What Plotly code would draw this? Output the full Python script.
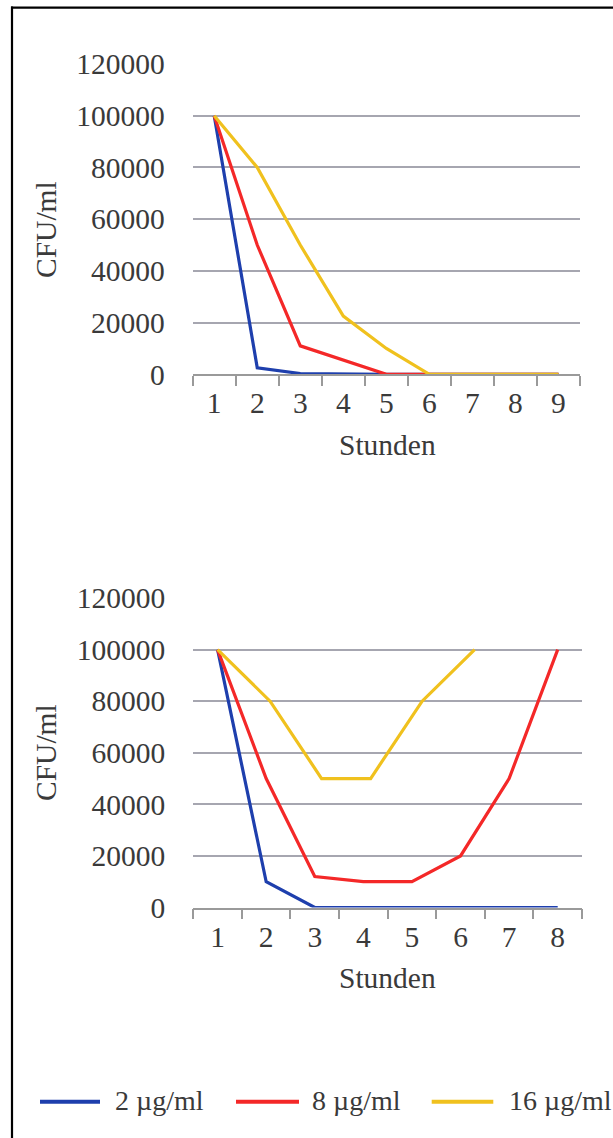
import plotly.graph_objects as go

W, H = 613, 1138

# ---------------- data ----------------
series_names = ["2 µg/ml", "8 µg/ml", "16 µg/ml"]
series_colors = ["#1e3fad", "#f42828", "#f0c11e"]

hours_top = [1, 2, 3, 4, 5, 6, 7, 8, 9]
top_2 = [100000, 2500, 300, 0, 0, 0, 0, 0, 0]
top_8 = [100000, 50000, 11000, 5500, 0, 0, 0, 0, 0]
top_16 = [100000, 80000, 50000, 22500, 10000, 0, 0, 0, 0]

hours_bottom = [1, 2, 3, 4, 5, 6, 7, 8]
bottom_2 = [100000, 10000, 0, 0, 0, 0, 0, 0]
bottom_8 = [100000, 50000, 12000, 10000, 10000, 20000, 50000, 100000]
hours_bottom_16 = [1, 2.08, 3.14, 4.15, 5.21, 6.29]
bottom_16 = [100000, 80000, 50000, 50000, 80000, 100000]

y_ticks = [0, 20000, 40000, 60000, 80000, 100000, 120000]
y_title = "CFU/ml"
x_title = "Stunden"

# ---------------- helpers ----------------
def fx(p):
    return p / W

def fy(p):
    return 1 - p / H

FONT = "Liberation Serif, Times New Roman, serif"
TXT = "#3a3a3a"
GRID = "#a6a6b0"
AXIS = "#9a9a9a"
TICK_SIZE = 29.5

fig = go.Figure()

top_sets = [(hours_top, top_2), (hours_top, top_8), (hours_top, top_16)]
bottom_sets = [(hours_bottom, bottom_2), (hours_bottom, bottom_8), (hours_bottom_16, bottom_16)]

for i, (xs, ys) in enumerate(top_sets):
    fig.add_trace(go.Scatter(x=xs, y=ys, mode="lines", name=series_names[i],
                             line=dict(color=series_colors[i], width=3.2),
                             xaxis="x", yaxis="y", showlegend=False))
for i, (xs, ys) in enumerate(bottom_sets):
    fig.add_trace(go.Scatter(x=xs, y=ys, mode="lines", name=series_names[i],
                             line=dict(color=series_colors[i], width=3.2),
                             xaxis="x2", yaxis="y2", showlegend=False))


def xaxis_cfg(cats, dom, anchor):
    n = len(cats)
    return dict(
        domain=dom, anchor=anchor, range=[0.5, n + 0.5], automargin=False,
        tickmode="array", tickvals=cats, ticktext=[str(c) for c in cats],
        ticks="outside", ticklen=2, tickcolor="rgba(0,0,0,0)",
        tickfont=dict(family=FONT, size=TICK_SIZE, color=TXT),
        minor=dict(tickmode="array", tickvals=[c - 0.5 for c in cats] + [n + 0.5],
                   ticks="outside", ticklen=10, tickcolor=AXIS, tickwidth=1.5,
                   showgrid=False),
        showgrid=False, zeroline=False, showline=True,
        linecolor=AXIS, linewidth=1.5, fixedrange=True,
    )


def yaxis_cfg(dom, anchor):
    return dict(
        domain=dom, anchor=anchor, range=[0, 120000], automargin=False,
        tickmode="array", tickvals=y_ticks, ticktext=[str(v) for v in y_ticks],
        ticks="", ticklabelstandoff=27,
        tickfont=dict(family=FONT, size=TICK_SIZE, color=TXT),
        showgrid=True, gridcolor=GRID, gridwidth=1.5,
        zeroline=False, showline=False, fixedrange=True,
    )


fig.update_layout(
    width=W, height=H, autosize=False,
    margin=dict(l=0, r=0, t=0, b=0, pad=0, autoexpand=False),
    paper_bgcolor="white", plot_bgcolor="white",
    showlegend=False,
    xaxis=xaxis_cfg(hours_top, [fx(192.7), fx(580)], "y"),
    yaxis=yaxis_cfg([fy(374.3), fy(64)], "x"),
    xaxis2=xaxis_cfg(hours_bottom, [fx(193.3), fx(582)], "y2"),
    yaxis2=yaxis_cfg([fy(907.5), fy(598)], "x2"),
)

annotations = []
shapes = []

# axis titles
for cy in (230, 753):
    annotations.append(dict(text=y_title, x=fx(46), y=fy(cy), xref="paper", yref="paper",
                            showarrow=False, textangle=-90, xanchor="center", yanchor="middle",
                            font=dict(family=FONT, size=29.5, color=TXT)))
for cy in (445, 978):
    annotations.append(dict(text=x_title, x=fx(387), y=fy(cy), xref="paper", yref="paper",
                            showarrow=False, xanchor="center", yanchor="middle",
                            font=dict(family=FONT, size=29.5, color=TXT)))

# manual legend
leg_y = 1101.7
leg_lines = [(40, 100), (236, 299), (431.7, 493.3)]
leg_text_x = [113, 310, 506.7]
for i in range(3):
    x0, x1 = leg_lines[i]
    shapes.append(dict(type="line", xref="paper", yref="paper",
                       x0=fx(x0), x1=fx(x1), y0=fy(leg_y), y1=fy(leg_y),
                       line=dict(color=series_colors[i], width=4)))
    annotations.append(dict(text=series_names[i], x=fx(leg_text_x[i]), y=fy(leg_y - 1),
                            xref="paper", yref="paper", showarrow=False,
                            xanchor="left", yanchor="middle",
                            font=dict(family=FONT, size=28, color=TXT)))

# frame (top and left edges visible)
shapes.append(dict(type="line", xref="paper", yref="paper",
                   x0=fx(11), x1=1.0, y0=fy(7.7), y1=fy(7.7),
                   line=dict(color="black", width=2.2)))
shapes.append(dict(type="line", xref="paper", yref="paper",
                   x0=fx(12), x1=fx(12), y0=fy(6.6), y1=0.0,
                   line=dict(color="black", width=2.2)))

fig.update_layout(annotations=annotations, shapes=shapes)

fig.write_html("out.html")
